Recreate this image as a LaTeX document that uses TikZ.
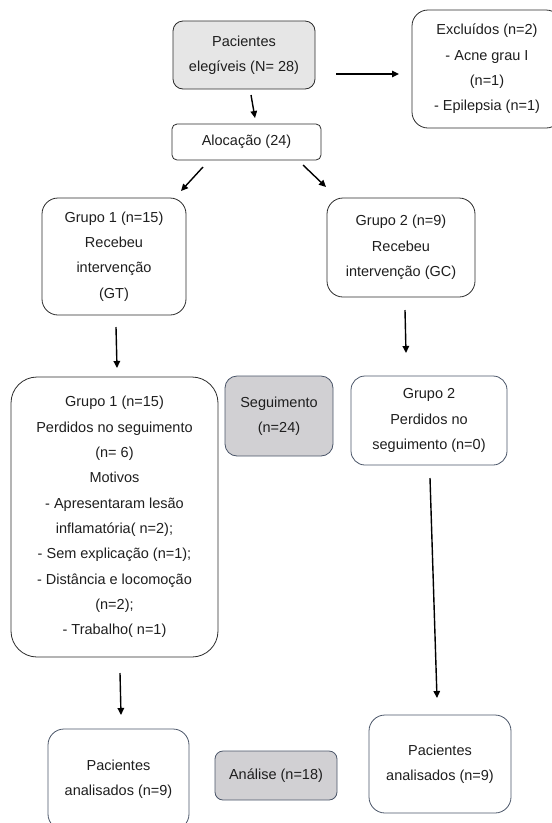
\documentclass[tikz,border=0pt]{standalone}
\usepackage{fontspec}
\setmainfont{Liberation Sans}
\usetikzlibrary{arrows.meta}
\definecolor{txt}{HTML}{1E1E1E}
\definecolor{edgeA}{HTML}{2B2B2B}
\definecolor{edgeB}{HTML}{4A5568}
\definecolor{fillA}{HTML}{E6E6E6}
\definecolor{fillB}{HTML}{D1D0D3}
\begin{document}
\begin{tikzpicture}[x=1pt,y=-1pt,
  box/.style={draw=edgeA, line width=0.8pt, rounded corners=#1, align=center, inner sep=0pt, text=txt, font=\fontsize{14.5}{25.3}\selectfont},
  box/.default=14pt,
  boxb/.style={box=#1, draw=edgeB},
  boxb/.default=14pt,
  arr/.style={draw=black, line width=1.4pt, -{Triangle[length=7pt,width=6.5pt]}}
]
\useasboundingbox (0,0) rectangle (552,823);

\node[box=10pt, fill=fillA, minimum width=142pt, minimum height=68pt] (pac) at (244,55) {Pacientes\\elegíveis (N= 28)};
\node[box=16pt, minimum width=150pt, minimum height=118pt] (excl) at (487,69) {Excluídos (n=2)\\- Acne grau I\\(n=1)\\- Epilepsia (n=1)};
\node[box=5pt, minimum width=149pt, minimum height=36pt] (aloc) at (246.5,142) {Alocação (24)};
\node[box=16pt, minimum width=144pt, minimum height=117pt] (g1) at (114,256.5) {Grupo 1 (n=15)\\Recebeu\\intervenção\\(GT)};
\node[box=16pt, minimum width=148pt, minimum height=99pt] (g2) at (401,247.5) {Grupo 2 (n=9)\\Recebeu\\intervenção (GC)};
\node[box=26pt, minimum width=207pt, minimum height=280pt] (g1p) at (114.5,517) {Grupo 1 (n=15)\\Perdidos no seguimento\\(n= 6)\\Motivos\\- Apresentaram lesão\\inflamatória( n=2);\\- Sem explicação (n=1);\\- Distância e locomoção\\(n=2);\\- Trabalho( n=1)};
\node[boxb=12pt, fill=fillB, minimum width=108pt, minimum height=80pt] (seg) at (279,416) {Seguimento\\(n=24)};
\node[boxb=14pt, minimum width=156pt, minimum height=89pt] (g2p) at (429,420.5) {Grupo 2\\Perdidos no\\seguimento (n=0)};
\node[boxb=16pt, minimum width=141pt, minimum height=101pt] (la) at (118.5,779.5) {Pacientes\\analisados (n=9)};
\node[boxb=8pt, fill=fillB, minimum width=122pt, minimum height=49pt] (an) at (276,775.5) {Análise (n=18)};
\node[boxb=16pt, minimum width=142pt, minimum height=98pt] (ra) at (440,764) {Pacientes\\analisados (n=9)};

\coordinate (a1s) at (251,95);  \coordinate (a1e) at (255,118);
\coordinate (a2s) at (336,74);  \coordinate (a2e) at (399,74);
\coordinate (a3s) at (203,167); \coordinate (a3e) at (181,191);
\coordinate (a4s) at (303,165); \coordinate (a4e) at (326,187);
\coordinate (a5s) at (116,327); \coordinate (a5e) at (117,368);
\coordinate (a6s) at (405,310); \coordinate (a6e) at (406,353);
\coordinate (a7s) at (120,673); \coordinate (a7e) at (121,715);
\coordinate (a8s) at (430,478); \coordinate (a8e) at (437,698);

\draw[arr] (a1s) -- (a1e);
\draw[arr] (a2s) -- (a2e);
\draw[arr] (a3s) -- (a3e);
\draw[arr] (a4s) -- (a4e);
\draw[arr] (a5s) -- (a5e);
\draw[arr] (a6s) -- (a6e);
\draw[arr] (a7s) -- (a7e);
\draw[arr] (a8s) -- (a8e);
\end{tikzpicture}
\end{document}
